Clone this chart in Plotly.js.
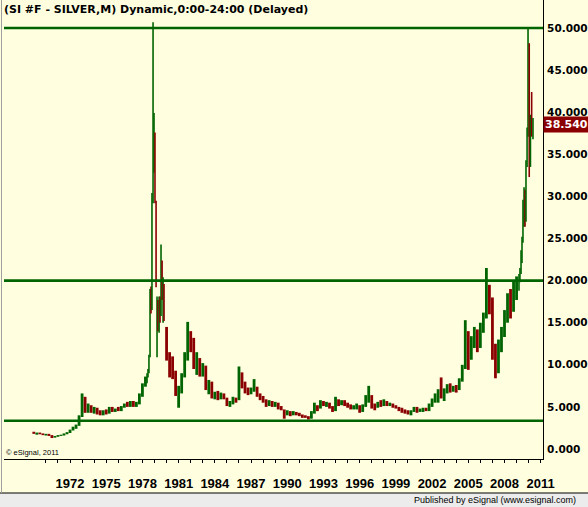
<!DOCTYPE html>
<html>
<head>
<meta charset="utf-8">
<script src="https://cdn.plot.ly/plotly-3.0.1.min.js"></script>
<style>
  html, body { margin: 0; padding: 0; background: #FFFFE0; }
  #chart { width: 588px; height: 507px; }
</style>
</head>
<body>
<div id="chart"></div>
<script>
// ---------- DATA (picture-axis years) ----------
// Quarterly bars, segment A: 1969.00 .. 1978.25
const qA_start = 1969.0;
const qA_open = [
  1.95,1.85,1.90,1.80,
  1.70,1.75,1.60,1.40,
  1.50,1.60,1.65,1.80,
  1.95,2.25,2.50,2.80,
  3.90,5.60,4.60,4.90,
  4.50,4.70,4.30,4.20,
  4.40,4.30,4.80,4.50,
  4.70,4.60,5.00,5.30,
  5.10,5.50,5.10,5.40,
  6.40,7.60];
const qA_high = [
  2.05,1.95,1.95,1.85,
  1.80,1.80,1.65,1.55,
  1.65,1.70,1.85,2.00,
  2.30,2.65,2.90,4.00,
  6.60,6.20,5.40,5.20,
  5.00,4.90,4.60,4.60,
  4.70,5.00,5.00,4.80,
  5.00,5.10,5.40,5.60,
  5.70,5.70,5.60,6.60,
  7.80,8.60];
const qA_low = [
  1.80,1.70,1.75,1.65,
  1.60,1.55,1.30,1.35,
  1.45,1.55,1.60,1.75,
  1.90,2.20,2.40,2.75,
  3.80,4.30,4.30,4.30,
  4.20,4.10,4.00,4.00,
  4.10,4.20,4.40,4.40,
  4.50,4.50,4.90,5.00,
  5.00,5.00,5.00,5.30,
  6.20,7.40];
const qA_close = [
  1.85,1.90,1.80,1.70,
  1.75,1.60,1.40,1.50,
  1.60,1.65,1.80,1.95,
  2.25,2.50,2.80,3.90,
  5.60,4.60,4.90,4.50,
  4.70,4.30,4.20,4.40,
  4.30,4.80,4.50,4.70,
  4.60,5.00,5.30,5.10,
  5.50,5.10,5.40,6.40,
  7.60,8.20];

// Quarterly bars, segment B: 1980.00 .. 2009.00
const qB_start = 1980.0;
const qB_open = [
  13.5,11.0,9.5,9.0,
  6.0,7.0,8.5,11.0,
  13.5,12.5,10.0,10.5,
  9.0,9.8,7.5,7.8,
  6.3,6.5,6.0,6.4,
  6.0,5.3,5.5,6.0,
  5.9,8.5,7.5,7.0,
  6.8,7.0,7.3,6.4,
  6.2,5.8,5.3,5.6,
  5.2,5.4,4.9,4.7,
  4.2,4.4,4.1,4.3,
  4.1,4.0,3.9,3.8,
  3.7,4.3,5.1,4.8,
  5.5,5.3,5.4,4.9,
  4.6,5.8,5.3,5.6,
  5.3,5.1,4.9,5.0,
  5.2,4.6,5.1,5.8,
  6.3,5.2,5.0,5.4,
  5.2,5.6,5.2,5.3,
  5.0,4.9,4.7,4.5,
  4.4,4.3,4.5,4.8,
  4.5,4.6,4.7,4.6,
  5.2,5.8,6.3,6.9,
  6.2,6.8,7.3,7.0,
  7.2,7.0,8.1,9.6,
  13.5,11.0,12.5,13.8,
  12.0,14.0,15.8,19.0,
  17.0,11.5,9.5,12.5,
  13.8,15.5,17.5,16.5,
  19.0];
const qB_high = [
  14.5,11.5,11.0,9.3,
  7.5,9.0,11.5,15.1,
  14.0,13.2,11.5,10.8,
  10.2,9.9,8.2,8.0,
  6.8,6.9,6.7,6.6,
  6.1,5.7,6.2,6.1,
  9.8,9.1,8.0,7.3,
  7.3,8.3,7.4,6.6,
  6.3,5.9,5.8,5.7,
  5.6,5.5,5.1,4.7,
  4.6,4.5,4.5,4.4,
  4.3,4.1,4.0,3.9,
  4.5,5.5,5.2,5.8,
  5.7,5.6,5.5,5.1,
  6.2,5.9,5.8,5.8,
  5.5,5.3,5.2,5.4,
  5.2,5.3,6.4,7.5,
  6.4,5.4,5.6,5.8,
  5.9,5.7,5.5,5.4,
  5.2,5.0,4.9,4.7,
  4.6,4.6,5.0,5.0,
  4.8,4.9,4.9,5.4,
  6.0,6.6,7.1,8.5,
  7.2,7.7,7.8,7.5,
  7.6,8.4,10.0,15.3,
  14.0,13.4,14.5,14.2,
  15.0,16.2,21.5,19.5,
  18.0,12.5,13.0,14.5,
  16.5,18.5,19.0,19.9,
  20.5];
const qB_low = [
  10.5,8.5,8.3,6.3,
  4.9,6.6,8.5,10.5,
  11.5,9.5,8.8,8.6,
  8.6,7.0,6.5,6.0,
  5.9,5.8,5.9,5.9,
  5.1,5.0,5.3,5.5,
  5.8,7.2,6.6,6.4,
  6.5,6.8,6.2,5.8,
  5.5,5.0,5.1,5.0,
  5.0,4.7,4.6,3.6,
  4.0,3.9,4.0,4.0,
  3.9,3.7,3.7,3.5,
  3.6,4.2,4.5,4.8,
  5.1,5.0,4.8,4.4,
  4.5,5.1,5.2,5.1,
  4.9,4.7,4.7,4.7,
  4.3,4.4,5.0,5.5,
  4.8,4.6,4.9,5.0,
  5.1,5.1,5.1,4.9,
  4.8,4.5,4.3,4.2,
  4.1,4.0,4.4,4.3,
  4.4,4.4,4.5,4.5,
  5.0,5.5,5.5,6.0,
  5.7,6.6,6.7,6.8,
  6.7,7.0,8.0,9.5,
  9.4,10.6,12.0,11.5,
  12.0,13.8,15.5,16.0,
  10.6,8.4,9.0,11.5,
  13.3,15.0,15.5,16.3,
  17.7];
const qB_close = [
  11.0,9.5,9.0,7.0,
  7.0,8.5,11.0,13.5,
  12.5,10.0,10.5,9.0,
  9.8,7.5,7.8,6.3,
  6.5,6.0,6.4,6.0,
  5.3,5.5,6.0,5.7,
  8.5,7.5,7.0,6.8,
  7.2,7.3,6.4,6.2,
  5.8,5.3,5.6,5.2,
  5.4,4.9,4.7,4.2,
  4.4,4.1,4.3,4.1,
  4.0,3.9,3.8,3.7,
  4.3,5.1,4.8,5.5,
  5.3,5.4,4.9,4.6,
  5.8,5.3,5.6,5.3,
  5.1,4.9,5.0,5.2,
  4.6,5.1,6.2,6.3,
  5.2,5.0,5.4,5.2,
  5.6,5.2,5.3,5.0,
  4.9,4.7,4.5,4.4,
  4.3,4.5,4.8,4.5,
  4.6,4.7,4.6,5.2,
  5.8,6.3,6.9,6.2,
  6.8,7.3,7.0,7.2,
  7.0,8.1,9.6,13.5,
  11.0,12.5,13.8,12.0,
  14.0,15.8,19.0,17.0,
  11.5,9.5,12.5,13.8,
  15.5,17.5,16.5,19.0,
  19.5];

// Monthly bars around the two spikes
const mDates = [1978.38,1978.46,1978.54,1978.63,1978.71,1978.79,1978.88,1978.96,1979.04,
  1979.13,1979.21,1979.29,1979.38,1979.46,1979.54,1979.63,1979.71,1979.79,
  2009.20,2009.28,2009.37,2009.45,2009.53,2009.62,2009.70,2009.78,2009.87,2009.95,
  2010.05,2010.15,2010.25,2010.36];
const mOpen  = [8.0,8.8,9.3,11.0,17.5,16.6,29.5,33.5,37.6,29.5,11.5,17.5,14.8,17.6,16.0,22.0,18.0,19.5,
  19.5,20.5,21.2,23.3,24.8,29.0,30.5,27.2,34.0,38.0,47.0,33.5,38.0,37.5];
const mHigh  = [9.0,9.5,11.2,19.0,19.3,30.4,50.7,39.9,37.6,29.5,18.1,17.7,18.1,18.1,24.3,22.4,20.4,19.6,
  20.8,21.5,23.6,25.2,29.6,31.1,30.8,34.3,38.2,49.9,48.2,39.7,42.4,39.3];
const mLow   = [7.8,8.5,9.0,10.9,16.1,16.5,29.2,32.8,29.2,19.2,10.9,14.0,13.8,15.0,15.8,17.7,15.0,15.2,
  18.8,19.8,20.8,22.1,24.5,26.4,26.4,27.0,33.5,37.1,32.3,33.5,37.1,36.8];
const mClose = [8.8,9.3,11.0,17.5,16.6,29.5,33.5,39.5,29.5,19.6,17.5,14.8,17.6,16.0,22.0,18.0,19.5,15.6,
  20.5,21.2,23.3,24.8,29.0,30.5,27.2,34.0,38.0,47.0,33.5,39.2,37.5,38.54];

const lastPrice = 38.54;
const levelLines = [50, 20, 3.36];
const yearLabels = ['1972','1975','1978','1981','1984','1987','1990','1993','1996','1999','2002','2005','2008','2011'];
const minorYears = [];
for (let y = 1970; y <= 2011; y++) minorYears.push(y);
const yTicks = [0,5,10,15,20,25,30,35,40,45,50];

// ---------- BUILD ----------
const qDates = qA_open.map((_, i) => qA_start + 0.25 * i)
  .concat(qB_open.map((_, i) => qB_start + 0.25 * i));
const GREEN = '#006400', RED = '#8B0000';

const traceQ = {
  type: 'ohlc', x: qDates,
  open: qA_open.concat(qB_open), high: qA_high.concat(qB_high),
  low: qA_low.concat(qB_low), close: qA_close.concat(qB_close),
  increasing: {line: {color: GREEN, width: 2.8}},
  decreasing: {line: {color: RED, width: 2.8}},
  tickwidth: 0, hoverinfo: 'skip', showlegend: false
};
const traceM = {
  type: 'ohlc', x: mDates, open: mOpen, high: mHigh, low: mLow, close: mClose,
  increasing: {line: {color: GREEN, width: 1.6}},
  decreasing: {line: {color: RED, width: 1.6}},
  tickwidth: 0, hoverinfo: 'skip', showlegend: false
};

// plot area: x 4..543 px, y 0..459 px
const PW = 539, PH = 459;
const px = p => (p - 4) / PW;
const py = p => (PH - p) / PH;

const shapes = levelLines.map(v => ({
  type: 'line', xref: 'paper', yref: 'y', x0: 0, x1: 1, y0: v, y1: v,
  line: {color: GREEN, width: 2.6}, layer: 'above'
}));
shapes.push({type: 'rect', xref: 'paper', yref: 'paper', x0: px(0), x1: px(588), y0: py(507), y1: py(493),
  fillcolor: '#ECECEC', line: {width: 0}, layer: 'above'});
shapes.push({type: 'line', xref: 'paper', yref: 'paper', x0: px(0), x1: px(588), y0: py(493), y1: py(493),
  line: {color: '#000', width: 1}, layer: 'above'});
shapes.push({type: 'line', xref: 'paper', yref: 'paper', x0: px(1.5), x1: px(1.5), y0: py(493), y1: py(0),
  line: {color: '#A0A0A0', width: 1}, layer: 'above'});

const annotations = [
  {text: '(SI #F - SILVER,M) Dynamic,0:00-24:00 (Delayed)', xref: 'paper', yref: 'paper',
   x: px(2), y: py(10), xanchor: 'left', yanchor: 'middle', showarrow: false,
   font: {family: 'DejaVu Sans', size: 11, weight: 'bold', color: '#000'}},
  {text: '© eSignal, 2011', xref: 'paper', yref: 'paper',
   x: px(4), y: py(452), xanchor: 'left', yanchor: 'middle', showarrow: false,
   font: {family: 'Liberation Sans', size: 7.5, color: '#000'}},
  {text: 'Published by eSignal (www.esignal.com)', xref: 'paper', yref: 'paper',
   x: px(578), y: py(500), xanchor: 'right', yanchor: 'middle', showarrow: false,
   font: {family: 'Liberation Sans', size: 9, color: '#000'}},
  {text: lastPrice.toFixed(3), xref: 'paper', yref: 'y',
   x: 1, y: lastPrice, xanchor: 'left', yanchor: 'middle', showarrow: false,
   bgcolor: RED, borderpad: 1,
   font: {family: 'DejaVu Sans', size: 11, weight: 'bold', color: '#FFFFFF'}}
];

const layout = {
  width: 588, height: 507,
  margin: {l: 4, r: 45, t: 0, b: 48, pad: 0},
  paper_bgcolor: '#FFFFE0', plot_bgcolor: '#FFFFE0',
  showlegend: false,
  xaxis: {
    type: 'linear', range: [1966.53, 2011.19], fixedrange: true,
    rangeslider: {visible: false},
    tickmode: 'array', tickvals: yearLabels.map(Number), ticktext: yearLabels,
    ticks: 'outside', ticklen: 3, tickwidth: 1, tickcolor: '#000',
    minor: {tickmode: 'array', tickvals: minorYears, ticks: 'outside', ticklen: 3, tickwidth: 1, tickcolor: '#000', showgrid: false},
    showline: true, linecolor: '#000', linewidth: 1,
    showgrid: false, zeroline: false,
    ticklabelstandoff: 9,
    tickfont: {family: 'Liberation Sans', size: 13, weight: 'bold', color: '#000'}
  },
  yaxis: {
    side: 'right', range: [-1.188, 53.33], fixedrange: true,
    tickmode: 'array', tickvals: yTicks, ticktext: yTicks.map(v => v.toFixed(3)),
    ticks: '', showline: true, linecolor: '#000', linewidth: 1,
    showgrid: false, zeroline: false, ticklabelstandoff: 1,
    tickfont: {family: 'DejaVu Sans', size: 10.5, weight: 'bold', color: '#000'}
  },
  shapes: shapes,
  annotations: annotations
};

Plotly.newPlot('chart', [traceQ, traceM], layout, {displayModeBar: false, staticPlot: true});
</script>
</body>
</html>
